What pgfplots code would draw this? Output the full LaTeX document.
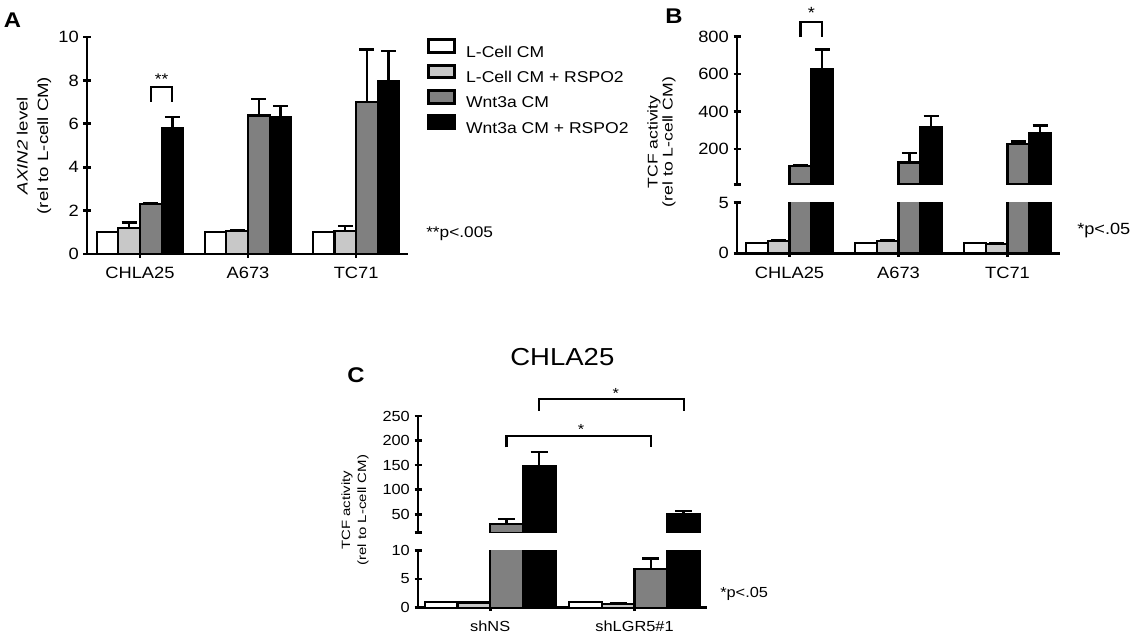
\documentclass[border=0pt]{standalone}
\usepackage{pgfplots}
\pgfplotsset{compat=1.18}
\usepackage{fontspec}
\setmainfont{Liberation Sans}[FakeStretch=1.12]
\newfontfamily\ylfont{Liberation Sans}[FakeStretch=1.25]
\definecolor{lg}{RGB}{200,200,200}
\definecolor{mg}{RGB}{128,128,128}
\pgfplotsset{
  common/.style={
    scale only axis,
    tick style={line width=2bp, black},
    major tick length=5.25bp,
    tick align=outside,
    /pgf/number format/assume math mode=true,
    tick label style={font=\fontsize{12.3pt}{14pt}\selectfont},
    xticklabel style={yshift=-4bp},
  },
  noarrow/.style={
    axis line style={line width=2bp,-},
    every outer x axis line/.append style={-},
    every outer y axis line/.append style={-},
    every inner x axis line/.append style={-},
    every inner y axis line/.append style={-},
  },
  lowerax/.style={common, axis x line=bottom, axis y line=left, noarrow},
  upperax/.style={common, axis x line=none, axis y line=left, noarrow, xtick=\empty},
  ebar/.style={
    ybar, bar shift=0pt, draw=black, line width=1.6bp,
    error bars/y dir=plus, error bars/y explicit,
    error bars/error bar style={line width=1.7bp, black},
    error bars/error mark options={rotate=90, line width=1.7bp, black, mark size=#1},
  },
  b1/.style={ebar=#1, fill=white},
  b2/.style={ebar=#1, fill=lg},
  b3/.style={ebar=#1, fill=mg},
  b4/.style={ebar=#1, fill=black},
  brk/.style={sharp plot, black, line width=1.6bp, forget plot},
}
\begin{document}
\begin{tikzpicture}
\path[use as bounding box] (0,0) rectangle (851.25bp,-477.75bp);

% ---------------- Panel A ----------------
\begin{axis}[lowerax,
  at={(65.25bp,-190.5bp)}, anchor=south west,
  width=240.75bp, height=162.75bp,
  xmin=-0.49, xmax=2.48, ymin=0, ymax=10,
  ytick={0,2,4,6,8,10},
  xtick={0,1,2}, xticklabels={CHLA25,A673,TC71},
  bar width=0.2,
  ylabel={\itshape AXIN2\upshape\ level\\(rel to L-cell CM)},
  ylabel style={font=\ylfont\fontsize{11.2pt}{15.4bp}\selectfont, align=center,
    at={(axis description cs:-0.165,0.5)}, anchor=center},
  legend style={at={(axis description cs:1.059,0.995)}, anchor=north west,
    draw=none, fill=none, inner sep=0pt, row sep=2.5bp,
    font=\fontsize{11.8pt}{14pt}\selectfont,
    nodes={inner xsep=7.5bp, inner ysep=0pt, text height=9.5bp, text depth=2.5bp}},
  legend cell align=left,
  legend image code/.code={\draw[#1, line width=2.2bp] (0bp,-0.2bp) rectangle (19.5bp,9.4bp);},
]
\addplot[b1=5.6bp] coordinates {(-0.3,1) +- (0,0) (0.7,1) +- (0,0) (1.7,1) +- (0,0)};
\addplot[b2=5.6bp] coordinates {(-0.1,1.2) +- (0,0.25) (0.9,1.05) +- (0,0.05) (1.9,1.05) +- (0,0.25)};
\addplot[b3=5.6bp] coordinates {(0.1,2.32) +- (0,0.03) (1.1,6.38) +- (0,0.77) (2.1,7.0) +- (0,2.42)};
\addplot[b4=5.6bp] coordinates {(0.3,5.8) +- (0,0.52) (1.3,6.3) +- (0,0.52) (2.3,7.95) +- (0,1.42)};
\addplot[brk] coordinates {(0.1,7.02) (0.1,7.7) (0.3,7.7) (0.3,7.02)};
\node[font=\fontsize{11.6pt}{14pt}\selectfont, anchor=base, inner sep=0pt] at (axis cs:0.2,7.79) {**};
\legend{L-Cell CM, L-Cell CM + RSPO2, Wnt3a CM, Wnt3a CM + RSPO2}
\end{axis}

% ---------------- Panel B lower ----------------
\begin{axis}[lowerax,
  at={(552.75bp,-189.975bp)}, anchor=south west,
  width=242.25bp, height=37.95bp,
  xmin=-0.482, xmax=2.482, ymin=0, ymax=5,
  ytick={0,5},
  xtick={0,1,2}, xticklabels={CHLA25,A673,TC71},
  bar width=0.2,
  ylabel={TCF activity\\(rel to L-cell CM)},
  ylabel style={font=\ylfont\fontsize{10.6pt}{11.25bp}\selectfont, align=center,
    at={(axis description cs:-0.234,2.20)}, anchor=center},
]
\addplot[b1=5.6bp] coordinates {(-0.3,1) +- (0,0) (0.7,1) +- (0,0) (1.7,1) +- (0,0)};
\addplot[b2=5.6bp] coordinates {(-0.1,1.2) +- (0,0.1) (0.9,1.25) +- (0,0.08) (1.9,0.95) +- (0,0.08)};
\addplot[b3=5.6bp] coordinates {(0.1,110) +- (0,5) (1.1,127) +- (0,52) (2.1,225) +- (0,14)};
\addplot[b4=5.6bp] coordinates {(0.3,625) +- (0,107) (1.3,318) +- (0,59) (2.3,286) +- (0,39)};
\end{axis}

% ---------------- Panel B upper ----------------
\begin{axis}[upperax,
  at={(552.75bp,-138.3bp)}, anchor=south west,
  width=242.25bp, height=110.775bp,
  xmin=-0.482, xmax=2.482, ymin=10, ymax=800,
  ytick={200,400,600,800},
  extra y ticks={10}, extra y tick labels={},
  bar width=0.2,
]
\addplot[b3=5.6bp] coordinates {(0.1,110) +- (0,5) (1.1,127) +- (0,52) (2.1,225) +- (0,14)};
\addplot[b4=5.6bp] coordinates {(0.3,625) +- (0,107) (1.3,318) +- (0,59) (2.3,286) +- (0,39)};
\end{axis}
% B annotations (unclipped)
\begin{axis}[scale only axis, hide axis, clip=false,
  at={(552.75bp,-138.3bp)}, anchor=south west,
  width=242.25bp, height=110.775bp,
  xmin=-0.482, xmax=2.482, ymin=10, ymax=800]
\addplot[brk] coordinates {(0.1,798) (0.1,879) (0.3,879) (0.3,798)};
\node[font=\fontsize{12.2pt}{14pt}\selectfont, anchor=base, inner sep=0pt] at (axis cs:0.2,895) {*};
\end{axis}

% ---------------- Panel C lower ----------------
\begin{axis}[lowerax,
  at={(313.5bp,-455.775bp)}, anchor=south west,
  width=216.525bp, height=43.05bp,
  xmin=-0.5, xmax=1.5, ymin=0, ymax=10,
  ytick={0,5,10},
  xtick={0,1}, xticklabels={shNS,shLGR5\#1},
  tick label style={font=\fontsize{11pt}{13pt}\selectfont},
  bar width=0.227,
  ylabel={TCF activity\\(rel to L-cell CM)},
  ylabel style={font=\ylfont\fontsize{9pt}{12bp}\selectfont, align=center,
    at={(axis description cs:-0.218,1.70)}, anchor=center},
]
\addplot[b1=6.4bp] coordinates {(-0.34,1) +- (0,0) (0.66,1) +- (0,0.05)};
\addplot[b2=6.4bp] coordinates {(-0.113,0.9) +- (0,0.15) (0.887,0.6) +- (0,0.12)};
\addplot[b3=6.4bp] coordinates {(0.113,30.3) +- (0,9.5) (1.113,6.8) +- (0,1.75)};
\addplot[b4=6.4bp] coordinates {(0.34,148.8) +- (0,28) (1.34,51) +- (0,5.5)};
\end{axis}

% ---------------- Panel C upper ----------------
\begin{axis}[upperax,
  at={(313.5bp,-399.525bp)}, anchor=south west,
  width=216.525bp, height=87.525bp,
  xmin=-0.5, xmax=1.5, ymin=12.6, ymax=250,
  ytick={50,100,150,200,250},
  extra y ticks={12.6}, extra y tick labels={},
  tick label style={font=\fontsize{11pt}{13pt}\selectfont},
  bar width=0.227,
  title={CHLA25},
  title style={font=\fontsize{18.5pt}{22pt}\selectfont, at={(axis description cs:0.5,1.44)}, anchor=center},
]
\addplot[b3=6.4bp] coordinates {(0.113,30.3) +- (0,9.5)};
\addplot[b4=6.4bp] coordinates {(0.34,148.8) +- (0,28) (1.34,51) +- (0,5.5)};
\end{axis}
% C annotations
\begin{axis}[scale only axis, hide axis, clip=false,
  at={(313.5bp,-399.525bp)}, anchor=south west,
  width=216.525bp, height=87.525bp,
  xmin=-0.5, xmax=1.5, ymin=12.6, ymax=250]
\addplot[brk] coordinates {(0.113,186.3) (0.113,209.3) (1.113,209.3) (1.113,186.3)};
\addplot[brk] coordinates {(0.34,260.7) (0.34,283.9) (1.34,283.9) (1.34,260.7)};
\node[font=\fontsize{11pt}{13pt}\selectfont, anchor=base, inner sep=0pt] at (axis cs:0.63,213.3) {*};
\node[font=\fontsize{11pt}{13pt}\selectfont, anchor=base, inner sep=0pt] at (axis cs:0.87,286.5) {*};
\end{axis}

% ---------------- free texts ----------------
\begin{scope}[x=0.75bp, y=-0.75bp]
\node[font=\bfseries\fontsize{16pt}{18pt}\selectfont, inner sep=0pt] at (12.5,20) {A};
\node[font=\bfseries\fontsize{16pt}{18pt}\selectfont, inner sep=0pt] at (674,16) {B};
\node[font=\bfseries\fontsize{16pt}{18pt}\selectfont, inner sep=0pt] at (356,375) {C};
\node[font=\fontsize{11.6pt}{14pt}\selectfont, anchor=west, inner sep=0pt] at (426,234) {**p<.005};
\node[font=\fontsize{12.2pt}{14pt}\selectfont, anchor=west, inner sep=0pt] at (1077,231) {*p<.05};
\node[font=\fontsize{11pt}{13pt}\selectfont, anchor=west, inner sep=0pt] at (720,594) {*p<.05};
\end{scope}
\end{tikzpicture}
\end{document}
